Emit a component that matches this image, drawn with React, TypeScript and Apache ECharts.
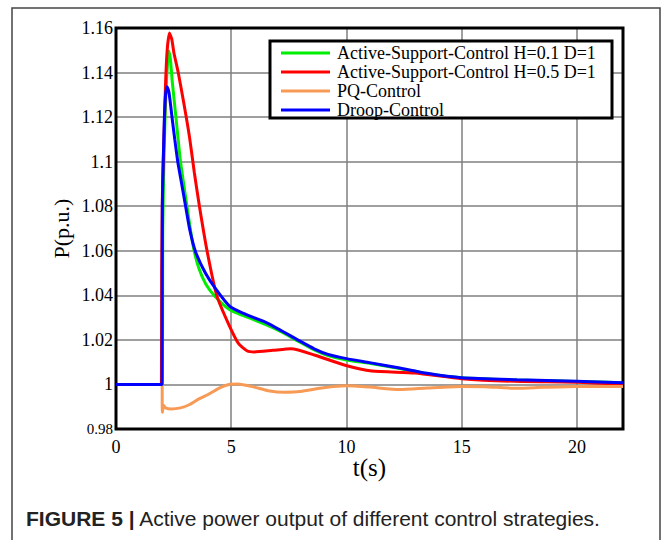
import React, { useEffect, useRef } from "react";
import * as echarts from "echarts";

const seriesNames = [
  "Active-Support-Control H=0.1 D=1",
  "Active-Support-Control H=0.5 D=1",
  "PQ-Control",
  "Droop-Control",
];
const seriesColors = ["#00ee00", "#ff0000", "#f79a55", "#0000ff"];

const xTicks = [0, 5, 10, 15, 20];
const yTicks = [0.98, 1.0, 1.02, 1.04, 1.06, 1.08, 1.1, 1.12, 1.14, 1.16];

const tGreen = [0, 2.0, 2.03, 2.08, 2.13, 2.2, 2.29, 2.36, 2.45, 2.6, 2.8, 3.08, 3.35, 3.6, 3.9, 4.3, 4.94, 5.5, 6.48, 7.2, 7.92, 8.6, 9.2, 10, 11, 12.25, 13.5, 15, 17.4, 20, 22];
const pGreen = [1, 1, 1.07, 1.1, 1.12, 1.138, 1.1497, 1.146, 1.135, 1.12, 1.1, 1.08, 1.062, 1.052, 1.045, 1.0395, 1.0335, 1.031, 1.027, 1.0235, 1.0193, 1.0155, 1.013, 1.011, 1.0095, 1.0073, 1.0048, 1.003, 1.002, 1.0013, 1.0008];

const tRed = [0, 1.97, 1.98, 2.02, 2.08, 2.15, 2.22, 2.32, 2.42, 2.51, 2.7, 2.94, 3.19, 3.4, 3.62, 3.95, 4.37, 4.89, 5.32, 5.7, 6.0, 6.8, 7.6, 8.64, 9.94, 11.1, 12.97, 15, 17.3, 20, 22];
const pRed = [1, 1, 1.05, 1.09, 1.11, 1.135, 1.15, 1.1577, 1.155, 1.149, 1.14, 1.1264, 1.111, 1.095, 1.08, 1.06, 1.04, 1.027, 1.0183, 1.015, 1.0146, 1.0153, 1.016, 1.0131, 1.0086, 1.006, 1.0051, 1.0026, 1.0014, 1.001, 1.0];

const tOrange = [0, 2.0, 2.01, 2.07, 2.15, 2.4, 2.8, 3.2, 3.6, 4.0, 4.5, 4.9, 5.3, 6.0, 6.6, 7.3, 8.0, 9.0, 10, 11, 12.3, 13.5, 15, 16, 17.4, 18.5, 20, 22];
const pOrange = [1, 1, 0.9875, 0.9905, 0.9895, 0.989, 0.9895, 0.991, 0.9935, 0.9955, 0.9985, 1.0, 1.0002, 0.9988, 0.9972, 0.9965, 0.9968, 0.9985, 0.9994, 0.9988, 0.9977, 0.9984, 0.9991, 0.999, 0.9983, 0.9987, 0.9991, 0.9991];

const tBlue = [0, 2.0, 2.01, 2.05, 2.1, 2.15, 2.22, 2.3, 2.43, 2.55, 2.68, 2.85, 3.02, 3.2, 3.45, 3.88, 4.31, 4.94, 5.5, 6.48, 7.2, 7.92, 8.6, 9.2, 10, 11, 12.25, 13.5, 15, 17.4, 20, 22];
const pBlue = [1, 1, 1.08, 1.1, 1.12, 1.13, 1.1336, 1.131, 1.12, 1.11, 1.1, 1.09, 1.08, 1.0695, 1.0596, 1.05, 1.0431, 1.035, 1.032, 1.028, 1.024, 1.0198, 1.016, 1.0135, 1.0116, 1.0098, 1.0075, 1.005, 1.003, 1.0021, 1.0014, 1.0008];

const seriesT = [tGreen, tRed, tOrange, tBlue];
const seriesP = [pGreen, pRed, pOrange, pBlue];

const caption = "Active power output of different control strategies.";

export default function App() {
  const ref = useRef<HTMLDivElement>(null);
  useEffect(() => {
    document.body.style.margin = "0";
    if (!ref.current) return;
    const chart = echarts.init(ref.current, undefined, { renderer: "svg" });
    const serif = "Liberation Serif, Times New Roman, serif";
    const sans = "Liberation Sans, Arial, sans-serif";
    chart.setOption({
      animation: false,
      backgroundColor: "#fff",
      grid: {
        left: 116,
        top: 28,
        width: 507,
        height: 401,
        show: true,
        borderColor: "#000",
        borderWidth: 3,
        backgroundColor: "transparent",
        z: 3,
      },
      xAxis: {
        type: "value",
        min: 0,
        max: 22,
        interval: 5,
        name: "t(s)",
        nameLocation: "middle",
        nameGap: 26,
        nameMoveOverlap: false,
        nameTextStyle: { fontFamily: serif, fontSize: 25, color: "#000" },
        axisLine: { show: false },
        axisTick: { show: false },
        axisLabel: {
          fontFamily: serif,
          fontSize: 18,
          color: "#000",
          margin: 9,
          formatter: (v: number) => (xTicks.includes(v) ? String(v) : ""),
        },
        splitLine: { lineStyle: { color: "#7f7f7f", width: 1.5 } },
      },
      yAxis: {
        type: "value",
        min: 0.98,
        max: 1.16,
        interval: 0.02,
        name: "P(p.u.)",
        nameLocation: "middle",
        nameGap: 44,
        nameMoveOverlap: false,
        nameTextStyle: { fontFamily: serif, fontSize: 22, color: "#000" },
        axisLine: { show: false },
        axisTick: { show: false },
        axisLabel: {
          fontFamily: serif,
          fontSize: 18,
          color: "#000",
          margin: 3,
          formatter: (v: number) => {
            const r = Math.round(v * 100) / 100;
            const s = String(r);
            return Math.abs(r - yTicks[0]) < 1e-6 ? "{s|" + s + "}" : s;
          },
          rich: { s: { fontFamily: serif, fontSize: 15, color: "#000" } },
        },
        splitLine: { lineStyle: { color: "#7f7f7f", width: 1.5 } },
      },
      legend: {
        data: seriesNames,
        orient: "vertical",
        left: 281,
        top: 44,
        padding: 0,
        itemGap: 1,
        itemWidth: 49,
        itemHeight: 3,
        icon: "rect",
        z: 20,
        textStyle: {
          fontFamily: serif,
          fontSize: 18,
          lineHeight: 17.5,
          color: "#000",
          padding: [0, 0, 0, 2],
        },
      },
      graphic: [
        {
          type: "rect",
          z: 0,
          shape: { x: 12, y: 8, width: 648, height: 560 },
          style: { fill: "none", stroke: "#444", lineWidth: 1.5 },
        },
        {
          type: "rect",
          z: 10,
          shape: { x: 270, y: 41, width: 342, height: 77 },
          style: { fill: "#fff", stroke: "#000", lineWidth: 3 },
        },
        {
          type: "text",
          x: 26,
          y: 518,
          style: {
            text: "{b|FIGURE 5 |} " + caption,
            fontFamily: sans,
            fontSize: 21,
            fill: "#222",
            verticalAlign: "middle",
            rich: {
              b: { fontFamily: sans, fontSize: 21, fontWeight: "bold", fill: "#222" },
            },
          },
        },
      ],
      series: seriesNames.map((name, i) => ({
        name,
        type: "line",
        color: seriesColors[i],
        symbol: "none",
        smooth: 0.2,
        z: 2 + i,
        lineStyle: { width: 3, color: seriesColors[i] },
        data: seriesT[i].map((t, k) => [t, seriesP[i][k]]),
      })),
    });
    return () => chart.dispose();
  }, []);
  return <div ref={ref} style={{ width: 664, height: 540 }} />;
}
